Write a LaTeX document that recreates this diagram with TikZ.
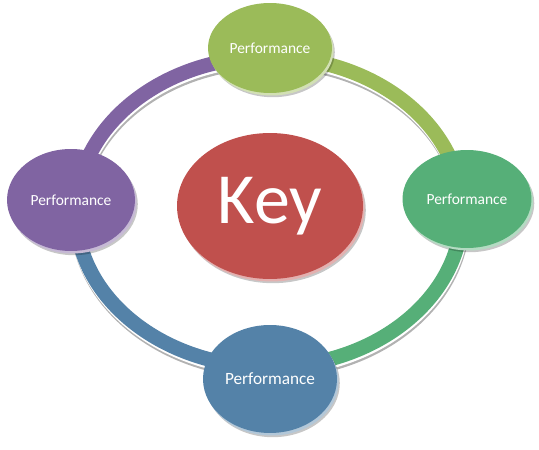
\documentclass[tikz,border=0pt]{standalone}
\usepackage{fontspec}
\setmainfont{Carlito}
\usetikzlibrary{shapes.geometric, shadows, backgrounds}
\definecolor{keyred}{HTML}{C0504D}
\definecolor{olivegreen}{HTML}{9BBB59}
\definecolor{seagreen}{HTML}{56AF78}
\definecolor{steelblue}{HTML}{5482A8}
\definecolor{lavender}{HTML}{8064A2}
\tikzset{
    disk/.style={ellipse, fill=#1, text=white, inner sep=0pt,
        drop shadow={shadow xshift=1.6pt, shadow yshift=-2.4pt, fill=black, opacity=0.22},
        drop shadow={shadow xshift=0.9pt, shadow yshift=-1.4pt, fill=#1!45!white, opacity=1}},
    perf/.style={font=\fontsize{8.8}{10}\selectfont},
    ring/.style={line width=8.3pt, draw=#1,
        preaction={draw=black!30, line width=8.3pt, transform canvas={xshift=0.6pt, yshift=-2.6pt}},
        preaction={draw=white, line width=8.3pt, transform canvas={xshift=0.3pt, yshift=-1.3pt}}}
}

\begin{document}
\begin{tikzpicture}[x=0.02cm, y=0.02cm]
    \useasboundingbox (0,0) rectangle (539,450);
    % Центр и четыре кружка
    \node[disk=keyred, minimum width=3.72cm, minimum height=2.92cm,
        font=\fontsize{41}{45}\selectfont] (key) at (270,244) {Key};
    \node[disk=olivegreen, perf, minimum width=2.48cm, minimum height=1.80cm] (top) at (270,402) {Performance};
    \node[disk=seagreen, perf, minimum width=2.58cm, minimum height=1.96cm] (right) at (467,251) {Performance};
    \node[disk=steelblue, perf, font=\fontsize{9.8}{11}\selectfont,
        minimum width=2.68cm, minimum height=2.16cm] (bottom) at (270,71) {Performance};
    \node[disk=lavender, perf, minimum width=2.56cm, minimum height=2.04cm] (left) at (71,250) {Performance};
    % Кольцо под кружками
    \coordinate (hub) at (269,238);
    \path (hub) ++(90:193 and 155) coordinate (ringN)
          (hub) ++(0:193 and 155) coordinate (ringE)
          (hub) ++(-90:193 and 155) coordinate (ringS)
          (hub) ++(180:193 and 155) coordinate (ringW);
    \begin{scope}[on background layer]
        \draw[ring=olivegreen] (ringN) arc[start angle=90, end angle=0, x radius=193, y radius=155];
        \draw[ring=seagreen] (ringE) arc[start angle=0, end angle=-90, x radius=193, y radius=155];
        \draw[ring=steelblue] (ringS) arc[start angle=-90, end angle=-180, x radius=193, y radius=155];
        \draw[ring=lavender] (ringW) arc[start angle=180, end angle=90, x radius=193, y radius=155];
    \end{scope}
\end{tikzpicture}
\end{document}
